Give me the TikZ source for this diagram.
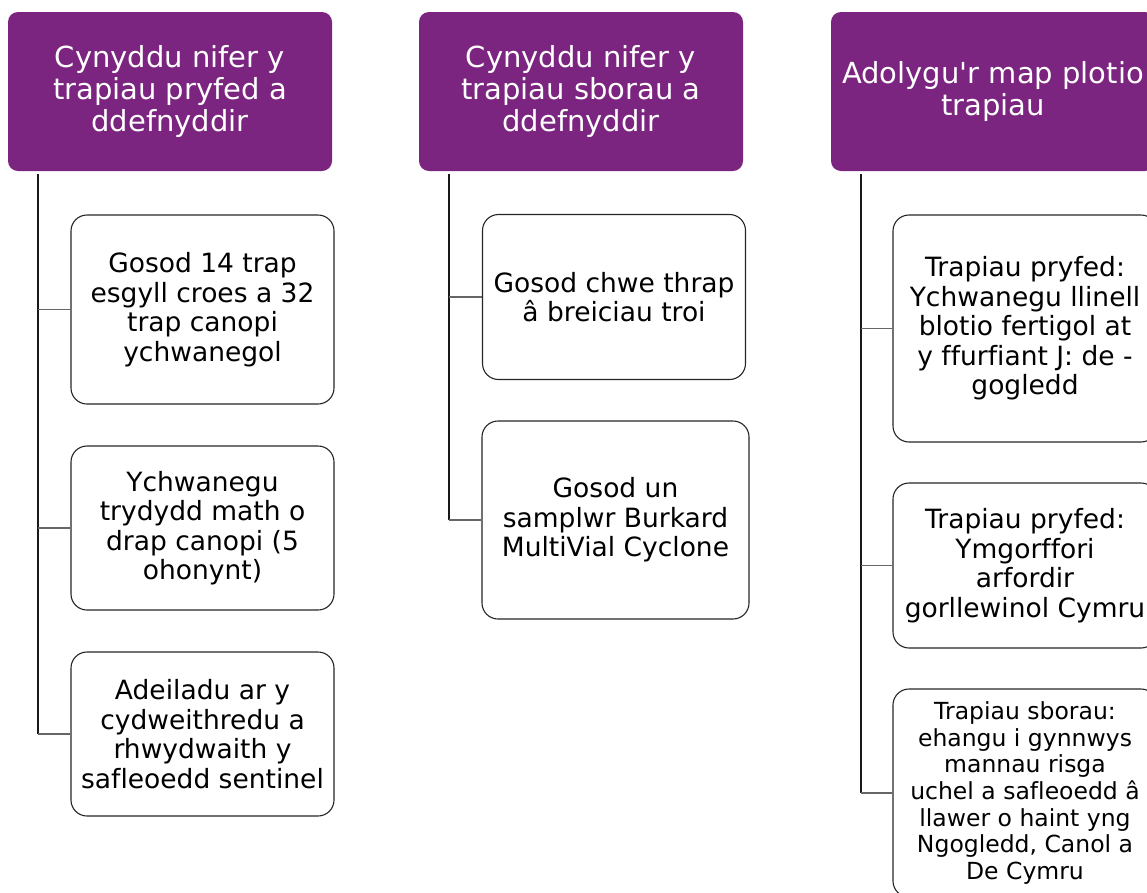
\documentclass[tikz,border=0pt]{standalone}
\usepackage{fontspec}
\setmainfont{DejaVu Sans}[Ligatures={NoCommon,TeXOff}]
\usetikzlibrary{positioning}
\definecolor{plum}{RGB}{123,36,128}
\tikzset{
	head/.style={fill=plum, text=white, rounded corners=10pt, minimum width=324pt, minimum height=159pt, align=center, inner sep=0pt, font=\fontsize{29}{32}\selectfont},
	leaf/.style={draw=black!85, line width=1.1pt, fill=white, rounded corners=16pt, minimum width=263pt, align=center, inner sep=0pt, font=\fontsize{26.5}{29.5}\selectfont},
	trunk/.style={draw=black!90, line width=1.2pt},
	branch/.style={draw=black!60, line width=1.2pt}
}
\begin{document}
\begin{tikzpicture}[x=1pt, y=-1pt]
	\useasboundingbox (0,0) rectangle (1147,892);
	\node[head] (1) at (170, 91.5) {Cynyddu nifer y\\trapiau pryfed a\\ddefnyddir};
	\node[head] (2) at (581, 91.5) {Cynyddu nifer y\\trapiau sborau a\\ddefnyddir};
	\node[head] (3) at (993, 91.5) {Adolygu'r map plotio\\trapiau};
	\node[leaf, minimum height=189pt] (11) at (202.5, 309.5) {Gosod 14 trap\\esgyll croes a 32\\trap canopi\\ychwanegol};
	\node[leaf, minimum height=164pt] (12) at (202.5, 528) {Ychwanegu\\trydydd math o\\drap canopi (5\\ohonynt)};
	\node[leaf, minimum height=164pt] (13) at (202.5, 734) {Adeiladu ar y\\cydweithredu a\\rhwydwaith y\\safleoedd sentinel};
	\node[leaf, minimum height=165pt] (21) at (614, 297) {Gosod chwe thrap\\â breiciau troi};
	\node[leaf, minimum height=198pt, minimum width=267pt] (22) at (615.5, 520) {Gosod un\\samplwr Burkard\\MultiVial Cyclone};
	\node[leaf, minimum height=227pt, minimum width=264pt] (31) at (1025, 328.5) {Trapiau pryfed:\\Ychwanegu llinell\\blotio fertigol at\\y ffurfiant J: de -\\gogledd};
	\node[leaf, minimum height=165pt, minimum width=264pt] (32) at (1025, 565.5) {Trapiau pryfed:\\Ymgorffori\\arfordir\\gorllewinol Cymru};
	\node[leaf, minimum height=208pt, minimum width=264pt, font=\fontsize{23.5}{26.7}\selectfont] (33) at (1025, 793) {Trapiau sborau:\\ehangu i gynnwys\\mannau risga\\uchel a safleoedd â\\llawer o haint yng\\Ngogledd, Canol a\\De Cymru};
	\coordinate (10) at (38, 174);
	\coordinate (20) at (449, 174);
	\coordinate (30) at (861, 174);
	\draw[trunk] (10) -- (10 |- 13.west);
	\draw[trunk] (20) -- (20 |- 22.west);
	\draw[trunk] (30) -- (30 |- 33.west);
	\draw[branch] (10 |- 11.west) -- (11.west);
	\draw[branch] (10 |- 12.west) -- (12.west);
	\draw[branch] (10 |- 13.west) -- (13.west);
	\draw[branch] (20 |- 21.west) -- (21.west);
	\draw[branch] (20 |- 22.west) -- (22.west);
	\draw[branch] (30 |- 31.west) -- (31.west);
	\draw[branch] (30 |- 32.west) -- (32.west);
	\draw[branch] (30 |- 33.west) -- (33.west);
\end{tikzpicture}
\end{document}
